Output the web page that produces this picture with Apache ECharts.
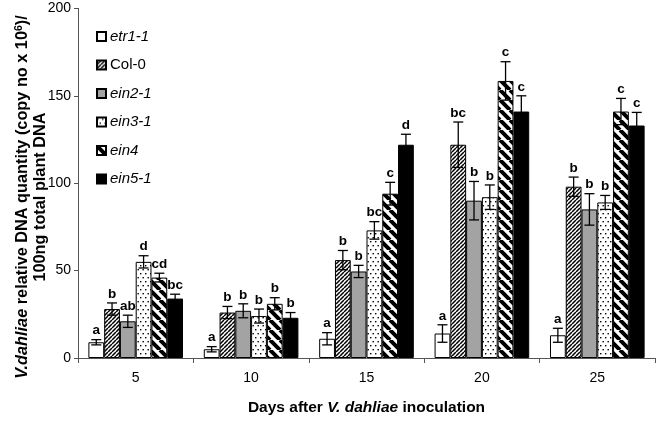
<!DOCTYPE html>
<html>
<head>
<meta charset="utf-8">
<script src="https://cdn.jsdelivr.net/npm/echarts@6/dist/echarts.min.js"></script>
<style>html,body{margin:0;padding:0;background:#fff}#c{width:656px;height:421px}</style>
</head>
<body>
<div id="c"></div>
<script>
// ---- data ----
const categories = ['5', '10', '15', '20', '25'];
const seriesNames = ['etr1-1', 'Col-0', 'ein2-1', 'ein3-1', 'ein4', 'ein5-1'];
const etr1_1 = [9, 5, 11, 14, 13];
const col_0 = [28, 26, 56, 122, 98];
const ein2_1 = [21, 27, 49.5, 90, 85];
const ein3_1 = [55, 24, 73, 92, 89];
const ein4 = [46, 31, 94, 158.5, 141];
const ein5_1 = [34, 23, 122, 141, 133];
const etr1_1_err = [1.5, 1.5, 3.5, 5, 4];
const col_0_err = [3.5, 3.5, 5.5, 13, 5.5];
const ein2_1_err = [3.5, 4, 3.5, 11, 9];
const ein3_1_err = [3.5, 4, 5, 7, 4];
const ein4_err = [2.5, 3.5, 6.5, 11, 7.5];
const ein5_1_err = [2.5, 3, 6, 9, 7.5];
const etr1_1_sig = ['a', 'a', 'a', 'a', 'a'];
const col_0_sig = ['b', 'b', 'b', 'bc', 'b'];
const ein2_1_sig = ['ab', 'b', 'b', 'b', 'b'];
const ein3_1_sig = ['d', 'b', 'bc', 'b', 'b'];
const ein4_sig = ['cd', 'b', 'c', 'c', 'c'];
const ein5_1_sig = ['bc', 'b', 'd', 'c', 'c'];
const yTicks = [0, 50, 100, 150, 200];

const values = [etr1_1, col_0, ein2_1, ein3_1, ein4, ein5_1];
const errs = [etr1_1_err, col_0_err, ein2_1_err, ein3_1_err, ein4_err, ein5_1_err];
const sigs = [etr1_1_sig, col_0_sig, ein2_1_sig, ein3_1_sig, ein4_sig, ein5_1_sig];

// ---- fill patterns ----
function hatch(size, lw, dir) {
  const c = document.createElement('canvas');
  c.width = c.height = size;
  const g = c.getContext('2d');
  g.fillStyle = '#fff'; g.fillRect(0, 0, size, size);
  g.strokeStyle = '#000'; g.lineWidth = lw; g.beginPath();
  for (const k of [-size, 0, size]) {
    if (dir > 0) { g.moveTo(k, size); g.lineTo(k + size, 0); }
    else { g.moveTo(k, 0); g.lineTo(k + size, size); }
  }
  g.stroke();
  return c;
}
function dots() {
  const c = document.createElement('canvas');
  c.width = 5; c.height = 8;
  const g = c.getContext('2d');
  g.fillStyle = '#fff'; g.fillRect(0, 0, 5, 8);
  g.fillStyle = '#000';
  g.fillRect(0, 1, 1.4, 1.4);
  g.fillRect(2.5, 5, 1.4, 1.4);
  return c;
}
const fills = [
  '#ffffff',
  { image: hatch(4, 1.5, 1), repeat: 'repeat' },
  '#a3a3a3',
  { image: dots(), repeat: 'repeat' },
  { image: hatch(10, 4, -1), repeat: 'repeat' },
  '#000000'
];

const CAT_GAP = 0.18;
const FONT = '"Liberation Sans", Arial, sans-serif';

const barSeries = seriesNames.map((n, i) => ({
  name: n,
  type: 'bar',
  barGap: '0%',
  barCategoryGap: (CAT_GAP * 100) + '%',
  data: values[i],
  itemStyle: { color: fills[i], borderColor: '#000', borderWidth: 1 },
  emphasis: { disabled: true },
  z: 2
}));

const errData = [];
for (let s = 0; s < seriesNames.length; s++) {
  for (let c = 0; c < categories.length; c++) {
    errData.push([c, values[s][c], errs[s][c], s, sigs[s][c]]);
  }
}

const errSeries = {
  type: 'custom',
  z: 5,
  silent: true,
  data: errData,
  encode: { x: 0, y: 1 },
  renderItem: function (params, api) {
    const c = api.value(0), v = api.value(1), e = api.value(2), s = api.value(3);
    const letter = errData[params.dataIndex][4];
    const catW = api.size([1, 0])[0];
    const barW = catW * (1 - CAT_GAP) / seriesNames.length;
    const cx = api.coord([c, v])[0] - barW * seriesNames.length / 2 + (s + 0.5) * barW;
    const yTop = api.coord([c, v + e])[1];
    const yBot = api.coord([c, v - e])[1];
    const hw = 5;
    const st = { stroke: '#000', lineWidth: 1.3 };
    return {
      type: 'group',
      children: [
        { type: 'line', shape: { x1: cx, y1: yTop, x2: cx, y2: yBot }, style: st },
        { type: 'line', shape: { x1: cx - hw, y1: yTop, x2: cx + hw, y2: yTop }, style: st },
        { type: 'line', shape: { x1: cx - hw, y1: yBot, x2: cx + hw, y2: yBot }, style: st },
        { type: 'text', x: cx, y: yTop - 2, style: { text: letter, fill: '#000', font: 'bold 13.5px ' + FONT, align: 'center', verticalAlign: 'bottom' } }
      ]
    };
  }
};

const chart = echarts.init(document.getElementById('c'), null, { renderer: 'canvas' });
chart.setOption({
  animation: false,
  backgroundColor: '#fff',
  textStyle: { fontFamily: FONT },
  grid: { left: 78, right: 1, top: 8.4, bottom: 59.3, containLabel: false },
  legend: {
    data: seriesNames,
    orient: 'vertical',
    left: 96,
    top: 29,
    padding: 0,
    itemWidth: 9,
    itemHeight: 9,
    itemGap: 13.5,
    icon: 'rect',
    selectedMode: false,
    formatter: n => n === 'Col-0' ? '{n|' + n + '}' : '{i|' + n + '}',
    textStyle: {
      color: '#000', fontSize: 15, fontFamily: FONT, padding: [0, 0, 0, -1],
      rich: {
        i: { fontStyle: 'italic', fontSize: 15, color: '#000', fontFamily: FONT },
        n: { fontSize: 15, color: '#000', fontFamily: FONT }
      }
    }
  },
  xAxis: {
    type: 'category',
    data: categories,
    axisLine: { lineStyle: { color: '#555', width: 1 } },
    axisTick: { show: true, length: 5, lineStyle: { color: '#555' } },
    axisLabel: { color: '#000', fontSize: 14, margin: 13, fontFamily: FONT },
    name: '{b|Days after }{bi|V. dahliae}{b| inoculation}',
    nameLocation: 'middle',
    nameGap: 42,
    nameTextStyle: {
      rich: {
        b: { fontWeight: 'bold', fontSize: 15.5, color: '#000', fontFamily: FONT },
        bi: { fontWeight: 'bold', fontStyle: 'italic', fontSize: 15.5, color: '#000', fontFamily: FONT }
      }
    }
  },
  yAxis: {
    type: 'value',
    min: yTicks[0],
    max: yTicks[yTicks.length - 1],
    interval: yTicks[1] - yTicks[0],
    splitLine: { show: false },
    axisLine: { show: true, lineStyle: { color: '#555', width: 1 } },
    axisTick: { show: true, length: 4, lineStyle: { color: '#555' } },
    axisLabel: { color: '#000', fontSize: 14, margin: 7, fontFamily: FONT }
  },
  graphic: [{
    type: 'text',
    x: 32,
    y: 197,
    rotation: Math.PI / 2,
    silent: true,
    style: {
      text: '{bi|V.dahliae}{b| relative DNA quantity (copy no x 10}{sup|6}{b|)/}\n{b|100ng total plant DNA}',
      align: 'center',
      verticalAlign: 'middle',
      rich: {
        b: { fontWeight: 'bold', fontSize: 16.3, fill: '#000', fontFamily: FONT, lineHeight: 18 },
        bi: { fontWeight: 'bold', fontStyle: 'italic', fontSize: 16.3, fill: '#000', fontFamily: FONT, lineHeight: 18 },
        sup: { fontWeight: 'bold', fontSize: 10.5, fill: '#000', fontFamily: FONT, verticalAlign: 'top', lineHeight: 18, padding: [0, 0, 7, 0] }
      }
    }
  }],
  series: barSeries.concat([errSeries])
});
</script>
</body>
</html>
